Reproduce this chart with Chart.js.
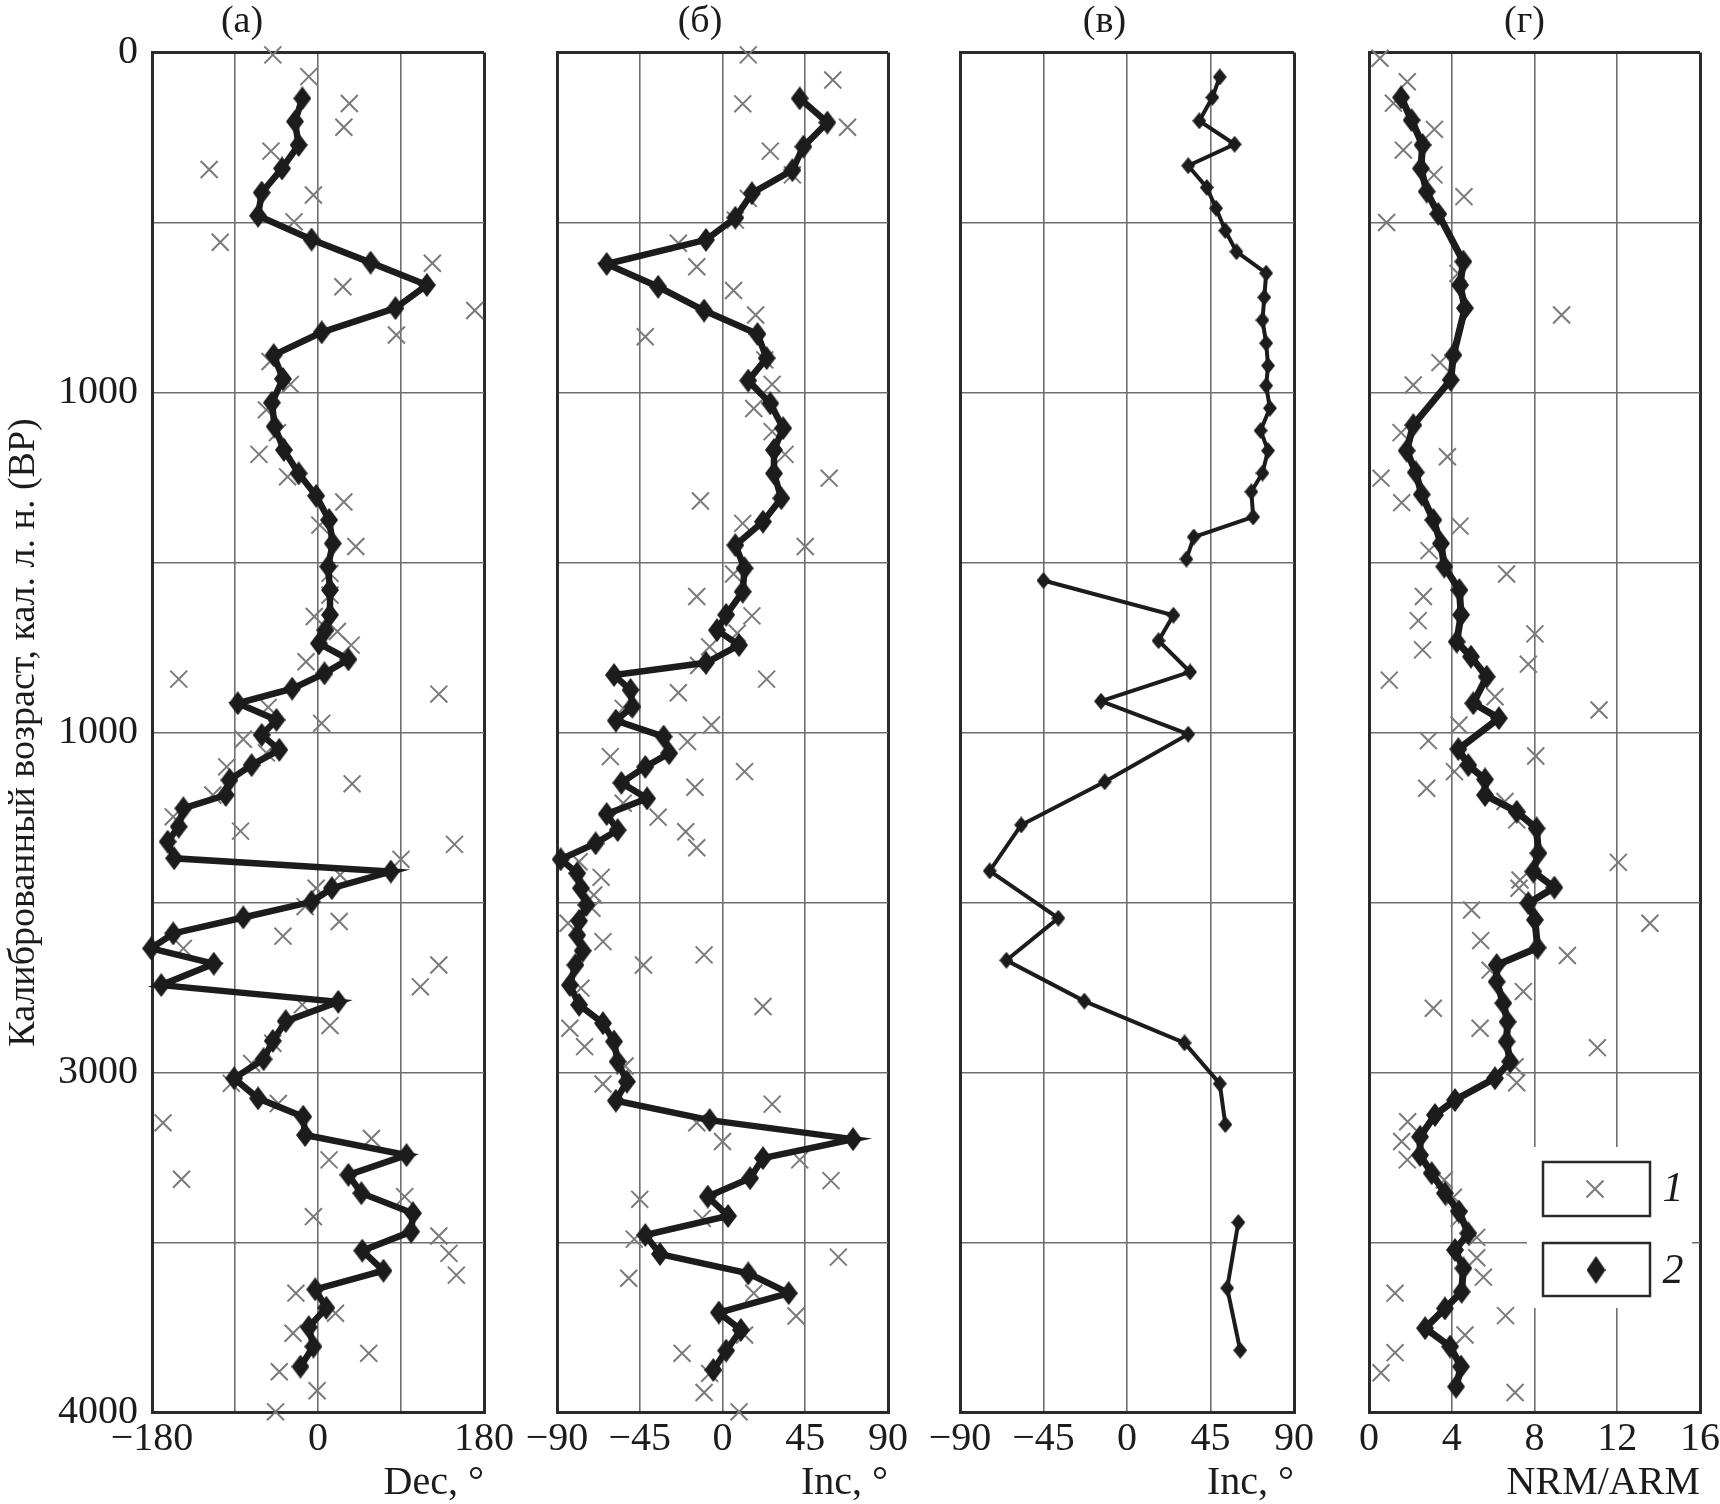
<!DOCTYPE html>
<html>
<head>
<meta charset="utf-8">
<script src="https://cdn.jsdelivr.net/npm/chart.js@4.4.0/dist/chart.umd.min.js"></script>
<style>
  html, body { margin: 0; padding: 0; background: #fff; }
  #wrap { position: relative; width: 1720px; height: 1504px; overflow: hidden; background: #fff; }
  #wrap canvas { position: absolute; top: 0; }
</style>
</head>
<body>
<div id="wrap">
  <canvas id="chartA" width="636" height="1504" style="left:0px"></canvas>
  <canvas id="chartB" width="421" height="1504" style="left:512px"></canvas>
  <canvas id="chartC" width="424" height="1504" style="left:915px"></canvas>
  <canvas id="chartD" width="371" height="1504" style="left:1349px"></canvas>
</div>
<script>
// --- data (age in cal BP) ---
const ageTicks = [0, 1000, 2000, 3000, 4000];
const ageTickLabels = ['0', '1000', '1000', '3000', '4000'];
const ageGrid = [0, 500, 1000, 1500, 2000, 2500, 3000, 3500, 4000];

const decTicks = [-180, -90, 0, 90, 180];
const decTickLabels = ['\u2212180', '', '0', '', '180'];
const incTicks = [-90, -45, 0, 45, 90];
const incTickLabels = ['\u221290', '\u221245', '0', '45', '90'];
const nrmTicks = [0, 4, 8, 12, 16];
const nrmTickLabels = ['0', '4', '8', '12', '16'];

// (а) Dec
const decLineAge = [135, 203, 272, 341, 412, 480, 550, 618, 684, 752, 823, 890, 960, 1030, 1100, 1169, 1238, 1304,
  1375, 1444, 1512, 1581, 1654, 1699, 1738, 1785, 1826, 1871, 1914, 1963, 2007, 2051, 2096, 2140, 2184, 2223, 2277,
  2321, 2370, 2409, 2458, 2498, 2544, 2591, 2635, 2680, 2743, 2792, 2849, 2907, 2961, 3017, 3076, 3130, 3184, 3243,
  3301, 3355, 3414, 3468, 3524, 3583, 3638, 3692, 3749, 3806, 3865];
const decLineVal = [-17, -25, -21, -39, -61, -65, -7, 57, 118, 84, 4, -48, -38, -50, -47, -37, -21, -2,
  12, 16, 11, 13, 13, 8, 1, 33, 7, -28, -87, -45, -61, -42, -72, -96, -100, -146, -151,
  -163, -156, 79, 15, -7, -81, -157, -181, -113, -170, 22, -35, -49, -59, -91, -65, -16, -14, 96,
  33, 47, 103, 101, 48, 71, -3, 9, -10, -5, -19];
const decPtAge = [7, 71, 150, 220, 290, 344, 419, 498, 558, 620, 689, 759, 831, 909, 976, 1051, 1118, 1182, 1248, 1322,
  1390, 1453, 1532, 1596, 1659, 1703, 1743, 1792, 1843, 1887, 1926, 1973, 2020, 2060, 2101, 2151, 2184, 2248, 2290,
  2329, 2373, 2419, 2458, 2512, 2556, 2599, 2635, 2684, 2748, 2801, 2862, 2914, 2973, 3032, 3091, 3148, 3194, 3257,
  3314, 3365, 3424, 3481, 3532, 3596, 3649, 3708, 3767, 3826, 3880, 3936, 3998];
const decPtVal = [-49, -10, 34, 28, -51, -118, -5, -26, -106, 124, 27, 170, 85, -52, -30, -56, -44, -64, -33, 28,
  2, 41, 13, 13, -4, 21, 36, -13, -151, 131, -54, 4, -81, -56, -99, 37, -114, -157, -84,
  148, 90, 24, -2, -14, 23, -38, -146, 131, 111, -17, 13, -49, -72, -94, -43, -168, 58, 12,
  -148, 94, -5, 131, 142, 150, -24, 19, -27, 55, -42, -1, -46];

// (б) Inc
const incLineAge = [135, 206, 277, 346, 414, 486, 551, 622, 689, 759, 828, 899, 965, 1032, 1105, 1169, 1238, 1311,
  1380, 1449, 1517, 1586, 1654, 1699, 1743, 1795, 1831, 1875, 1924, 1965, 2012, 2061, 2101, 2148, 2194, 2240, 2287,
  2326, 2373, 2414, 2458, 2507, 2554, 2596, 2642, 2684, 2743, 2801, 2855, 2909, 2968, 3027, 3083, 3140, 3196, 3252,
  3311, 3365, 3422, 3478, 3534, 3591, 3649, 3706, 3757, 3818, 3875];
const incLineVal = [42, 57, 44, 38, 16, 7, -9, -63, -35, -10, 19, 24, 14, 26, 33, 28, 28, 32,
  22, 7, 12, 11, 2, -3, 9, -9, -59, -50, -49, -58, -32, -29, -42, -55, -41, -63, -57,
  -69, -88, -79, -77, -74, -78, -79, -76, -80, -83, -78, -65, -59, -57, -52, -58, -7, 71, 22,
  15, -8, 3, -42, -34, 14, 36, -2, 10, 2, -5];
const incPtAge = [7, 81, 151, 220, 290, 360, 429, 493, 561, 630, 700, 772, 836, 904, 976, 1047, 1115, 1182, 1252, 1319,
  1385, 1453, 1534, 1600, 1657, 1708, 1748, 1803, 1843, 1883, 1929, 1978, 2027, 2071, 2115, 2161, 2208, 2249, 2292,
  2339, 2380, 2426, 2478, 2517, 2561, 2615, 2654, 2684, 2752, 2806, 2870, 2924, 2981, 3034, 3093, 3148, 3203, 3257,
  3318, 3373, 3429, 3490, 3543, 3605, 3649, 3716, 3772, 3826, 3885, 3941, 3998];
const incPtVal = [14, 60, 11, 68, 26, 38, 14, 7, -24, -14, 6, 18, -42, 23, 27, 17, 27, 34, 58, -12,
  11, 45, 6, -14, 16, 8, -7, -13, 24, -24, -54, -6, -19, -61, 12, -15, -54, -35, -20,
  -14, -78, -66, -70, -71, -84, -65, -10, -43, -77, 22, -83, -75, -53, -65, 27, -14, 0, 42,
  59, -45, -11, -48, 63, -51, 17, 40, 12, -22, -7, -10, 9];

// (в) Inc, second record (null = break in the curve)
const incCAge = [72, 132, 201, 270, 333, 397, 458, 524, 586, 649, 720, 787, 855, 921, 980, 1046, 1112, 1171, 1237,
  1292, 1366, 1425, 1490, 1520, 1553, 1655, 1730, 1822, 1908, 2005, 2145, 2272, 2407, 2546, 2670, 2790, 2913, 3033,
  3153, 3300, 3441, 3634, 3817];
const incCVal = [50, 46, 39, 58, 33, 43, 48, 53, 59, 75, 74, 73, 75, 76, 75, 77, 72, 76, 73,
  67, 68, 36, 32, null, -45, 25, 17, 34, -14, 33, -12, -57, -74, -37, -65, -23, 31, 50,
  53, null, 60, 54, 61];

// (г) NRM/ARM
const nrmLineAge = [132, 199, 272, 341, 409, 475, 615, 684, 752, 890, 963, 1096, 1171, 1235, 1300, 1375, 1444, 1512,
  1581, 1654, 1733, 1777, 1836, 1914, 1958, 2049, 2096, 2138, 2184, 2233, 2282, 2355, 2409, 2456, 2502, 2551, 2633,
  2684, 2733, 2796, 2851, 2909, 2968, 3017, 3081, 3125, 3189, 3243, 3296, 3355, 3409, 3473, 3522, 3576, 3645, 3694,
  3752, 3806, 3865, 3924];
const nrmLineVal = [1.55, 2.06, 2.59, 2.51, 2.79, 3.35, 4.56, 4.4, 4.64, 4.08, 3.95, 2.14, 1.82, 2.26, 2.55, 3.11, 3.48, 3.64,
  4.37, 4.45, 4.24, 4.93, 5.69, 5.04, 6.28, 4.32, 4.8, 5.61, 5.61, 7.14, 8.1, 8.19, 7.94, 8.96, 7.7, 8.02, 8.15,
  6.17, 6.17, 6.49, 6.7, 6.65, 6.82, 6.09, 4.16, 3.19, 2.47, 2.47, 3.03, 3.67, 4.35, 4.8, 4.16, 4.56, 4.48, 3.67,
  2.71, 3.92, 4.45, 4.21];
const nrmPtAge = [17, 86, 149, 226, 287, 360, 424, 500, 650, 772, 912, 978, 1118, 1189, 1252, 1324, 1393, 1465, 1534,
  1600, 1671, 1710, 1757, 1799, 1846, 1895, 1934, 1978, 2024, 2069, 2115, 2164, 2203, 2257, 2382, 2434, 2458, 2522,
  2561, 2612, 2656, 2699, 2762, 2811, 2870, 2927, 2983, 3030, 3145, 3203, 3257, 3316, 3367, 3429, 3485, 3545, 3602,
  3649, 3715, 3772, 3824, 3883, 3941];
const nrmPtVal = [0.53, 1.85, 1.18, 3.16, 1.66, 3.14, 4.59, 0.85, 4.3, 9.31, 3.43, 2.14, 1.55, 3.79, 0.58, 1.58, 4.4, 2.9, 6.65,
  2.63, 2.38, 8.02, 2.59, 7.7, 0.98, 6.09, 11.12, 4.35, 2.87, 8.06, 4.13, 2.79, 6.57, 7.14, 12.05, 7.3, 7.25, 4.96,
  13.58, 5.4, 9.59, 5.85, 7.46, 3.11, 5.37, 11.04, 7.06, 7.14, 1.87, 1.58, 1.85, 3.64, 4.08, 4.35, 5.21, 5.21, 5.53,
  1.26, 6.6, 4.64, 1.26, 0.58, 7.06];

// --- styling ---
const FONT = "'Liberation Serif', 'DejaVu Serif', serif";
const INK = '#1c1c1c';
const CROSS = '#7a7a7a';

function diamondImg(w, h) {
  const c = document.createElement('canvas');
  c.width = w; c.height = h;
  const g = c.getContext('2d');
  g.fillStyle = INK;
  g.beginPath();
  g.moveTo(w / 2, 0); g.lineTo(w, h / 2); g.lineTo(w / 2, h); g.lineTo(0, h / 2);
  g.closePath(); g.fill();
  return c;
}
const bigDiamond = diamondImg(18, 24);
const smallDiamond = diamondImg(14, 17);
const legendDiamond = diamondImg(19, 28);

const toPts = (vals, ages) => vals.map((v, i) => ({ x: v, y: ages[i] }));

function gridStyle(min, max) {
  const edge = c => c.tick && (c.tick.value === min || c.tick.value === max);
  return {
    color: c => edge(c) ? '#2a2a2a' : '#6e6e6e',
    lineWidth: c => edge(c) ? 3 : 1.6,
    drawTicks: false
  };
}

const boxLegend = {
  id: 'boxLegend',
  beforeDatasetsDraw(chart) {
    const { ctx, chartArea: a } = chart;
    const r = a.right;
    ctx.save();
    ctx.fillStyle = '#fff';
    ctx.fillRect(r - 173, 1147, 165, 161);
    ctx.strokeStyle = '#2a2a2a';
    ctx.lineWidth = 2.5;
    ctx.strokeRect(r - 157, 1162, 107, 54);
    ctx.strokeRect(r - 157, 1243, 107, 53);
    // x symbol
    ctx.strokeStyle = CROSS;
    ctx.lineWidth = 2;
    const cx = r - 105, cy = 1189;
    ctx.beginPath();
    ctx.moveTo(cx - 8.5, cy - 8.5); ctx.lineTo(cx + 8.5, cy + 8.5);
    ctx.moveTo(cx + 8.5, cy - 8.5); ctx.lineTo(cx - 8.5, cy + 8.5);
    ctx.stroke();
    ctx.drawImage(legendDiamond, r - 104 - legendDiamond.width / 2, 1270 - legendDiamond.height / 2);
    ctx.fillStyle = INK;
    ctx.font = 'italic 42px ' + FONT;
    ctx.textAlign = 'center';
    ctx.textBaseline = 'middle';
    ctx.fillText('1', r - 27, 1190);
    ctx.fillText('2', r - 27, 1272);
    ctx.restore();
  }
};

function buildPanel(id, p) {
  const datasets = [{
    data: toPts(p.lineVal, p.lineAge),
    borderColor: INK,
    borderWidth: p.lineWidth,
    pointStyle: p.marker,
    pointRadius: 10,
    tension: 0,
    spanGaps: false,
    clip: false
  }];
  if (p.ptVal) {
    datasets.push({
      data: toPts(p.ptVal, p.ptAge),
      showLine: false,
      pointStyle: 'crossRot',
      pointRadius: 12,
      pointBorderColor: CROSS,
      pointBorderWidth: 2,
      clip: false
    });
  }
  return new Chart(document.getElementById(id).getContext('2d'), {
    type: 'line',
    data: { datasets },
    plugins: p.plugins || [],
    options: {
      responsive: false,
      animation: false,
      indexAxis: 'y',
      layout: { padding: { left: 0, right: p.margin, top: 0, bottom: 0 }, autoPadding: false },
      plugins: {
        legend: { display: false },
        tooltip: { enabled: false },
        title: {
          display: true, text: p.title, color: INK,
          font: { family: FONT, size: 38, weight: 'normal', lineHeight: 1 },
          padding: { top: 3, bottom: 11.5 }
        }
      },
      scales: {
        x: {
          type: 'linear', position: 'bottom',
          min: p.ticks[0], max: p.ticks[p.ticks.length - 1],
          afterBuildTicks: s => { s.ticks = p.ticks.map(v => ({ value: v })); },
          ticks: {
            autoSkip: false, maxRotation: 0, padding: 3, color: INK,
            font: { family: FONT, size: 40 },
            callback: (v, i) => p.tickLabels[i]
          },
          grid: gridStyle(p.ticks[0], p.ticks[p.ticks.length - 1]),
          border: { display: true, color: '#2a2a2a', width: 3 },
          title: {
            display: true, text: p.xTitle, align: 'end', color: INK,
            font: { family: FONT, size: 40, lineHeight: 1.05 },
            padding: { top: 0, bottom: 0 }
          },
          afterFit: s => { s.height = 91.5; s.paddingLeft = 0; s.paddingRight = 0; }
        },
        y: {
          type: 'linear', reverse: true, min: 0, max: 4000,
          afterBuildTicks: s => { s.ticks = ageGrid.map(v => ({ value: v })); },
          ticks: {
            display: p.yLabels, autoSkip: false, padding: 14, color: INK,
            font: { family: FONT, size: 40 },
            callback: v => {
              const k = ageTicks.indexOf(v);
              return k >= 0 ? ageTickLabels[k] : '';
            }
          },
          grid: gridStyle(0, 4000),
          border: { display: true, color: '#2a2a2a', width: 3 },
          title: {
            display: p.yLabels,
            text: 'Калиброванный возраст, кал. л. н. (BP)',
            color: INK,
            font: { family: FONT, size: 38 },
            padding: 1
          },
          afterFit: s => { s.width = p.margin; s.paddingTop = 0; s.paddingBottom = 0; }
        }
      }
    }
  });
}

buildPanel('chartA', {
  title: '(а)', xTitle: 'Dec, °', margin: 152, yLabels: true,
  ticks: decTicks, tickLabels: decTickLabels,
  lineAge: decLineAge, lineVal: decLineVal, ptAge: decPtAge, ptVal: decPtVal,
  lineWidth: 6.5, marker: bigDiamond
});
buildPanel('chartB', {
  title: '(б)', xTitle: 'Inc, °', margin: 45, yLabels: false,
  ticks: incTicks, tickLabels: incTickLabels,
  lineAge: incLineAge, lineVal: incLineVal, ptAge: incPtAge, ptVal: incPtVal,
  lineWidth: 6.5, marker: bigDiamond
});
buildPanel('chartC', {
  title: '(в)', xTitle: 'Inc, °', margin: 45, yLabels: false,
  ticks: incTicks, tickLabels: incTickLabels,
  lineAge: incCAge, lineVal: incCVal,
  lineWidth: 4, marker: smallDiamond
});
buildPanel('chartD', {
  title: '(г)', xTitle: 'NRM/ARM', margin: 20, yLabels: false,
  ticks: nrmTicks, tickLabels: nrmTickLabels,
  lineAge: nrmLineAge, lineVal: nrmLineVal, ptAge: nrmPtAge, ptVal: nrmPtVal,
  lineWidth: 7, marker: bigDiamond, plugins: [boxLegend]
});
</script>
</body>
</html>
